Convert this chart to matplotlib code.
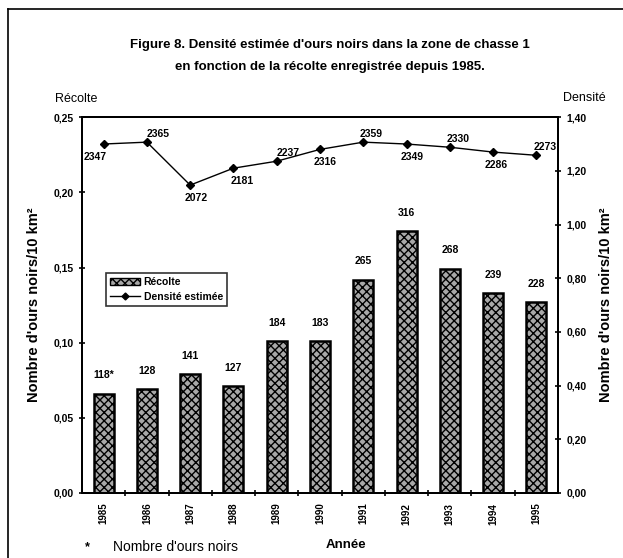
"""
Densité estimée d'ours noirs, zone de chasse 1 (1985-1995)
"""

import matplotlib
matplotlib.use('Agg')
import matplotlib.pyplot as plt
from matplotlib.lines import Line2D
from matplotlib.ticker import FuncFormatter

plt.rcParams['font.family'] = ['Liberation Sans', 'DejaVu Sans']
plt.rcParams['hatch.linewidth'] = 1.0

# Données
annees = ['1985', '1986', '1987', '1988', '1989', '1990',
          '1991', '1992', '1993', '1994', '1995']
recolte = [0.066, 0.069, 0.079, 0.071, 0.101, 0.101,
           0.142, 0.174, 0.149, 0.133, 0.127]
recolte_labels = ['118*', '128', '141', '127', '184', '183',
                  '265', '316', '268', '239', '228']
densite = [1.30, 1.307, 1.147, 1.21, 1.236, 1.28,
           1.307, 1.30, 1.288, 1.27, 1.258]
densite_labels = ['2347', '2365', '2072', '2181', '2237', '2316',
                  '2359', '2349', '2330', '2286', '2273']

fig = plt.figure(figsize=(6.23, 5.58), dpi=100)
ax = fig.add_axes([0.1316, 0.1165, 0.7641, 0.6735])
ax2 = ax.twinx()

x = list(range(len(annees)))

# Barres (récolte)
ax.bar(x, recolte, width=0.46, facecolor='#a8a8a8', edgecolor='black',
       hatch='xxxx', linewidth=1.8, zorder=2)
for xi, v, lab in zip(x, recolte, recolte_labels):
    ax.text(xi, v + 0.009, lab, ha='center', va='bottom',
            fontsize=7.5, fontweight='bold')

ax.set_xlim(-0.5, len(annees) - 0.5)
ax.set_ylim(0, 0.25)
ax.set_yticks([0, 0.05, 0.10, 0.15, 0.20, 0.25])
ax.yaxis.set_major_formatter(FuncFormatter(lambda v, p: f'{v:.2f}'.replace('.', ',')))
ax.set_xticks(x)
ax.set_xticklabels(annees, rotation=90, fontsize=7, fontweight='bold')
ax.set_xticks([i + 0.5 for i in x[:-1]], minor=True)
ax.tick_params(axis='x', which='major', length=0, pad=7)
ax.tick_params(axis='x', which='minor', length=5, direction='inout', width=1.2)
ax.tick_params(axis='y', length=5, direction='inout', width=1.2, labelsize=7.5)
for t in ax.get_yticklabels():
    t.set_fontweight('bold')

# Ligne (densité)
ax2.plot(x, densite, color='black', linewidth=1.0, marker='D',
         markersize=4, zorder=3)
offsets = [(-6, -9), (8, 6), (4, -9), (6, -9), (8, 6), (4, -9),
           (6, 6), (4, -9), (6, 6), (2, -9), (6, 6)]
for xi, v, lab, (dx, dy) in zip(x, densite, densite_labels, offsets):
    ax2.annotate(lab, (xi, v), xytext=(dx, dy), textcoords='offset points',
                 ha='center', va='center', fontsize=7.5, fontweight='bold')
ax2.set_ylim(0, 1.40)
ax2.set_yticks([0, 0.2, 0.4, 0.6, 0.8, 1.0, 1.2, 1.4])
ax2.yaxis.set_major_formatter(FuncFormatter(lambda v, p: f'{v:.2f}'.replace('.', ',')))
ax2.tick_params(axis='y', length=5, direction='inout', width=1.2, labelsize=7.5)
for t in ax2.get_yticklabels():
    t.set_fontweight('bold')

for a in (ax, ax2):
    for s in a.spines.values():
        s.set_linewidth(1.4)

ax.set_ylabel("Nombre d'ours noirs/10 km²", fontsize=10.5, fontweight='bold', labelpad=9)
ax2.set_ylabel("Nombre d'ours noirs/10 km²", fontsize=10.5, fontweight='bold', labelpad=9)

# Légende
handles = [
    plt.Rectangle((0, 0), 1, 1, facecolor='#a8a8a8', edgecolor='black', hatch='xxxx'),
    Line2D([], [], color='black', marker='D', markersize=3.5, linewidth=1.0),
]
leg = ax.legend(handles, ['Récolte', 'Densité estimée'], loc='upper left',
                bbox_to_anchor=(0.04, 0.60), fontsize=7.5, frameon=True,
                fancybox=False, edgecolor='black', borderpad=0.4,
                handlelength=2.8, handletextpad=0.4, labelspacing=0.5)
leg.get_frame().set_linewidth(1.2)
for t in leg.get_texts():
    t.set_fontweight('bold')

# Textes autour
fig.text(0.53, 0.919, "Figure 8. Densité estimée d'ours noirs dans la zone de chasse 1",
         ha='center', va='center', fontsize=9.5, fontweight='bold')
fig.text(0.53, 0.880, "en fonction de la récolte enregistrée depuis 1985.",
         ha='center', va='center', fontsize=9.5, fontweight='bold')
fig.text(0.088, 0.822, 'Récolte', ha='left', va='center', fontsize=9)
fig.text(0.972, 0.825, 'Densité', ha='right', va='center', fontsize=9)
fig.text(0.555, 0.024, 'Année', ha='center', va='center', fontsize=9.5, fontweight='bold')
fig.text(0.136, 0.020, '*', ha='left', va='center', fontsize=9, fontweight='bold')
fig.text(0.182, 0.020, "Nombre d'ours noirs", ha='left', va='center', fontsize=10)

# Cadre du document scanné
fig.add_artist(Line2D([0.013, 1.0], [0.984, 0.984], color='black', linewidth=1.2))
fig.add_artist(Line2D([0.013, 0.013], [0.0, 0.984], color='black', linewidth=1.2))

fig.savefig('out.png', dpi=100)
